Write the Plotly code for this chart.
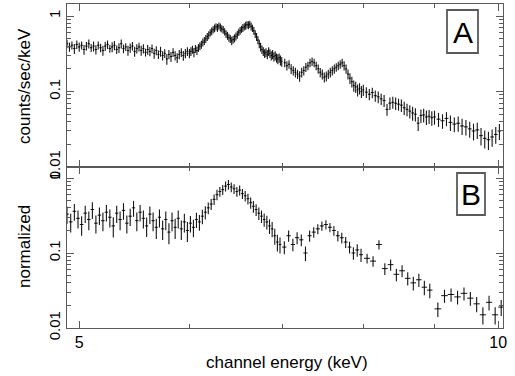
import numpy as np
import plotly.graph_objects as go

# ---------------- data ----------------
TOP_E = [
    4.90, 4.92, 4.94, 4.96, 4.98, 5.00, 5.02, 5.04, 5.06, 5.08,
    5.10, 5.12, 5.14, 5.16, 5.18, 5.20, 5.22, 5.24, 5.26, 5.28,
    5.30, 5.32, 5.34, 5.36, 5.38, 5.40, 5.42, 5.44, 5.46, 5.48,
    5.50, 5.52, 5.54, 5.56, 5.58, 5.60, 5.62, 5.64, 5.66, 5.68,
    5.70, 5.72, 5.74, 5.76, 5.78, 5.80, 5.82, 5.84, 5.86, 5.88,
    5.90, 5.92, 5.94, 5.96, 5.98, 6.00,
    6.015, 6.030, 6.045, 6.060, 6.075, 6.090, 6.105, 6.120, 6.135, 6.150,
    6.165, 6.180, 6.195, 6.210, 6.225, 6.240, 6.255, 6.270, 6.285, 6.300,
    6.315, 6.330, 6.345, 6.360, 6.375, 6.390, 6.405, 6.420, 6.435, 6.450,
    6.465, 6.480, 6.495, 6.510, 6.525, 6.540, 6.555, 6.570, 6.585, 6.600,
    6.615, 6.630, 6.645, 6.660, 6.675, 6.690, 6.705, 6.720, 6.735, 6.750,
    6.765, 6.780, 6.795, 6.810, 6.825, 6.840, 6.855, 6.870, 6.885, 6.900,
    6.915, 6.930, 6.945, 6.960, 6.975, 6.990,
    7.025, 7.050, 7.075, 7.100, 7.125, 7.150, 7.175, 7.200, 7.225, 7.250,
    7.275, 7.300, 7.325, 7.350, 7.375, 7.400, 7.425, 7.450, 7.475, 7.500,
    7.525, 7.550, 7.575, 7.600, 7.625, 7.650, 7.675, 7.700, 7.725, 7.750,
    7.775, 7.800, 7.825, 7.850, 7.875, 7.900, 7.925, 7.950, 7.975, 8.000,
    8.04, 8.08, 8.12, 8.16, 8.20, 8.24, 8.28, 8.32, 8.36, 8.40,
    8.44, 8.48, 8.52, 8.56, 8.60, 8.64, 8.68, 8.72, 8.76, 8.80,
    8.84, 8.88, 8.92, 8.96, 9.00,
    9.06, 9.12, 9.18, 9.24, 9.30, 9.36, 9.42, 9.48, 9.54, 9.60,
    9.66, 9.72, 9.78, 9.84, 9.90, 9.96, 10.02,
]
TOP_V = [
    0.43, 0.39, 0.41, 0.37, 0.42, 0.39, 0.41, 0.36, 0.40, 0.43,
    0.38, 0.40, 0.36, 0.41, 0.38, 0.35, 0.40, 0.42, 0.37, 0.39,
    0.41, 0.36, 0.38, 0.43, 0.37, 0.39, 0.35, 0.38, 0.40, 0.34,
    0.37, 0.39, 0.35, 0.37, 0.33, 0.36, 0.34, 0.37, 0.32, 0.35,
    0.31, 0.34, 0.30, 0.32, 0.27, 0.31, 0.29, 0.33, 0.30, 0.28,
    0.31, 0.33, 0.30, 0.32, 0.34, 0.32,
    0.34, 0.36, 0.33, 0.37, 0.35, 0.38, 0.40, 0.42, 0.45, 0.47,
    0.50, 0.53, 0.56, 0.60, 0.63, 0.66, 0.69, 0.72, 0.70, 0.74,
    0.71, 0.68, 0.66, 0.62, 0.58, 0.55, 0.52, 0.50, 0.47, 0.49,
    0.51, 0.54, 0.57, 0.61, 0.64, 0.67, 0.70, 0.72, 0.75, 0.77,
    0.76, 0.78, 0.73, 0.69, 0.64, 0.58, 0.53, 0.48, 0.43, 0.39,
    0.36, 0.34, 0.32, 0.33, 0.31, 0.34, 0.32, 0.30, 0.31, 0.29,
    0.30, 0.28, 0.27, 0.28, 0.26, 0.25,
    0.24, 0.22, 0.23, 0.20, 0.19, 0.18, 0.17, 0.16, 0.18, 0.19,
    0.21, 0.22, 0.24, 0.25, 0.24, 0.22, 0.20, 0.18, 0.17, 0.155,
    0.16, 0.17, 0.18, 0.19, 0.20, 0.21, 0.22, 0.23, 0.24, 0.22,
    0.20, 0.17, 0.15, 0.135, 0.12, 0.115, 0.105, 0.11, 0.10, 0.105,
    0.098, 0.092, 0.097, 0.088, 0.085, 0.080, 0.076, 0.058, 0.070, 0.072,
    0.070, 0.068, 0.066, 0.061, 0.058, 0.055, 0.052, 0.050, 0.038, 0.048,
    0.049, 0.046, 0.047, 0.045, 0.046,
    0.043, 0.041, 0.044, 0.039, 0.037, 0.038, 0.035, 0.034, 0.032, 0.030,
    0.031, 0.026, 0.024, 0.023, 0.025, 0.027, 0.030,
]
TOP_ERR_PCT = [
    13, 14, 12, 15, 13, 14, 12, 15, 13, 14,
    12, 15, 14, 12, 13, 15, 14, 13, 12, 15,
    14, 13, 15, 14, 13, 12, 15, 14, 13, 15,
    14, 13, 15, 14, 12, 15, 14, 13, 15, 14,
    13, 15, 14, 13, 16, 14, 15, 13, 14, 15,
    14, 13, 15, 14, 13, 14,
    13, 12, 14, 12, 13, 12, 12, 12, 12, 12,
    12, 12, 12, 11, 12, 11, 12, 11, 12, 11,
    12, 11, 12, 11, 12, 12, 12, 12, 13, 12,
    12, 12, 12, 11, 12, 11, 12, 11, 12, 11,
    12, 11, 12, 11, 12, 12, 12, 12, 13, 13,
    13, 13, 13, 13, 14, 13, 13, 14, 14, 14,
    14, 14, 15, 14, 15, 15,
    13, 14, 13, 15, 14, 15, 14, 16, 15, 14,
    14, 13, 13, 13, 13, 13, 14, 14, 15, 15,
    15, 14, 15, 14, 14, 13, 13, 13, 13, 14,
    14, 15, 16, 16, 17, 17, 18, 17, 18, 17,
    16, 17, 16, 17, 18, 17, 18, 18, 19, 18,
    19, 18, 19, 20, 19, 20, 21, 20, 21, 20,
    21, 22, 21, 22, 21,
    21, 22, 21, 23, 22, 23, 24, 23, 24, 25,
    24, 26, 27, 27, 26, 25, 24,
]

BOT_E = [
    4.90, 4.93, 4.96, 4.99, 5.02, 5.05, 5.08, 5.11, 5.14, 5.17,
    5.20, 5.23, 5.26, 5.29, 5.32, 5.35, 5.38, 5.41, 5.44, 5.47,
    5.50, 5.53, 5.56, 5.59, 5.62, 5.65, 5.68, 5.71, 5.74, 5.77,
    5.80, 5.83, 5.86, 5.89, 5.92, 5.95, 5.98,
    6.01, 6.04, 6.07, 6.10, 6.13, 6.16, 6.19, 6.22, 6.25, 6.28,
    6.31, 6.34, 6.37, 6.40, 6.43, 6.46, 6.49, 6.52, 6.55, 6.58,
    6.61, 6.64, 6.67, 6.70, 6.73, 6.76, 6.79, 6.82, 6.85, 6.88,
    6.91, 6.94, 6.97,
    7.02, 7.07, 7.12, 7.17, 7.22, 7.27, 7.32, 7.37, 7.42, 7.47,
    7.52, 7.57, 7.62, 7.67, 7.72, 7.77, 7.82, 7.87, 7.92, 7.97,
    8.05, 8.13, 8.21, 8.29, 8.37, 8.45, 8.53, 8.61, 8.69, 8.77, 8.85, 8.93,
    9.05, 9.15, 9.25, 9.35, 9.45, 9.55, 9.65, 9.75, 9.85, 9.95, 10.05,
]
BOT_V = [
    0.33, 0.26, 0.36, 0.29, 0.24, 0.34, 0.28, 0.38, 0.25, 0.32,
    0.27, 0.35, 0.30, 0.23, 0.34, 0.28, 0.37, 0.25, 0.31, 0.40,
    0.27, 0.35, 0.29, 0.23, 0.33, 0.27, 0.22, 0.30, 0.21, 0.28,
    0.19, 0.27, 0.22, 0.29, 0.21, 0.26, 0.20,
    0.25, 0.22, 0.28, 0.26, 0.31, 0.35, 0.40, 0.45, 0.52, 0.60,
    0.66, 0.70, 0.78, 0.82, 0.76, 0.72, 0.66, 0.69, 0.62, 0.58,
    0.53, 0.47, 0.42, 0.38, 0.34, 0.31, 0.28, 0.26, 0.23, 0.21,
    0.17, 0.14, 0.13,
    0.12, 0.17, 0.13, 0.16, 0.15, 0.10, 0.17, 0.19, 0.21, 0.23,
    0.24, 0.22, 0.20, 0.17, 0.16, 0.14, 0.12, 0.10, 0.11, 0.095,
    0.085, 0.078, 0.13, 0.062, 0.070, 0.052, 0.058, 0.046, 0.040, 0.044, 0.035, 0.032,
    0.018, 0.027, 0.028, 0.026, 0.029, 0.025, 0.021, 0.015, 0.022, 0.015, 0.019,
]
BOT_ERR_PCT = [
    26, 28, 25, 27, 29, 26, 28, 25, 27, 26,
    28, 25, 27, 30, 26, 28, 25, 27, 26, 24,
    28, 25, 27, 29, 26, 28, 30, 27, 29, 28,
    31, 28, 30, 27, 29, 28, 30,
    25, 26, 23, 24, 22, 20, 18, 17, 16, 16,
    15, 15, 15, 15, 15, 15, 15, 15, 15, 16,
    16, 17, 18, 18, 19, 19, 20, 21, 22, 23,
    24, 25, 24,
    20, 17, 19, 18, 18, 22, 17, 16, 15, 14,
    14, 14, 15, 16, 16, 17, 18, 19, 19, 20,
    15, 16, 14, 18, 17, 19, 18, 20, 21, 20, 22, 22,
    22, 20, 20, 21, 20, 21, 23, 26, 22, 26, 24,
]

X_TICKS = [5, 10]
X_TICK_TEXT = ["5", "10"]
X_MINOR = [6, 7, 8, 9]
Y_TICKS = [0.01, 0.1, 1]
Y_TICK_TEXT = ["0.01", "0.1", "1"]
Y_MINOR = [0.02, 0.03, 0.04, 0.05, 0.06, 0.07, 0.08, 0.09,
           0.2, 0.3, 0.4, 0.5, 0.6, 0.7, 0.8, 0.9]


def half_bins(e):
    e = np.asarray(e, dtype=float)
    d = np.diff(e)
    left = np.concatenate([[d[0]], d])
    right = np.concatenate([d, [d[-1]]])
    return np.minimum(left, right) / 2.0


def spectrum_trace(e, v, pct, xa, ya):
    v = np.asarray(v, dtype=float)
    err = v * np.asarray(pct, dtype=float) / 100.0
    return go.Scatter(
        x=e, y=v, mode="markers", xaxis=xa, yaxis=ya,
        marker=dict(size=1, color="black"),
        error_y=dict(type="data", array=err, color="#141414", thickness=1.1, width=0),
        error_x=dict(type="data", array=half_bins(e), color="#141414", thickness=1, width=0),
        showlegend=False, hoverinfo="skip",
    )


FONT = "Liberation Sans, Arial, Helvetica, sans-serif"
FRAME = "#5a5a5a"

fig = go.Figure()
fig.add_trace(spectrum_trace(TOP_E, TOP_V, TOP_ERR_PCT, "x2", "y2"))
fig.add_trace(spectrum_trace(BOT_E, BOT_V, BOT_ERR_PCT, "x", "y"))

split = (328 - 167) / 324.0
xr = [np.log10(4.90), np.log10(10.08)]

common_x = dict(
    type="log", range=xr, showgrid=False, zeroline=False,
    showline=True, linecolor=FRAME, linewidth=1.3, mirror="allticks",
    ticks="inside", ticklen=7, tickwidth=1, tickcolor=FRAME,
    tickmode="array", tickvals=X_TICKS, ticktext=X_TICK_TEXT,
    minor=dict(tickmode="array", tickvals=X_MINOR, ticks="inside",
               ticklen=4, tickwidth=1, tickcolor=FRAME, showgrid=False),
    tickfont=dict(family=FONT, size=16, color="black"),
)
common_y = dict(
    type="log", showgrid=False, zeroline=False,
    showline=True, linecolor=FRAME, linewidth=1.3, mirror="allticks",
    ticks="inside", ticklen=7, tickwidth=1, tickcolor=FRAME,
    tickmode="array", tickvals=Y_TICKS, ticktext=Y_TICK_TEXT,
    minor=dict(tickmode="array", tickvals=Y_MINOR, ticks="inside",
               ticklen=3.5, tickwidth=1, tickcolor=FRAME, showgrid=False),
    tickangle=-90,
    tickfont=dict(family=FONT, size=15, color="black"),
)

fig.update_layout(
    width=515, height=376,
    margin=dict(l=67, r=12, t=4, b=48),
    paper_bgcolor="white", plot_bgcolor="white",
    font=dict(family=FONT, color="black"),
    xaxis=dict(common_x, anchor="y", domain=[0, 1]),
    xaxis2=dict(common_x, anchor="y2", domain=[0, 1], matches="x", showticklabels=False),
    yaxis=dict(common_y, anchor="x", domain=[0, split], range=[-2, 0.147]),
    yaxis2=dict(common_y, anchor="x2", domain=[split, 1], range=[-2, 0.159]),
)

# label boxes A and B (paper coordinates of the plotting area)
W, H = 436.0, 324.0
def px(x):
    return (x - 67) / W
def py(y):
    return (328 - y) / H

for (x0, x1, y0, y1, txt) in [(447, 478, 10, 53, "A"), (457, 485, 173, 215, "B")]:
    fig.add_shape(type="rect", xref="paper", yref="paper",
                  x0=px(x0), x1=px(x1), y0=py(y1), y1=py(y0),
                  line=dict(color=FRAME, width=1.8), fillcolor="white", layer="above")
    fig.add_annotation(xref="paper", yref="paper", x=px((x0 + x1) / 2), y=py((y0 + y1) / 2 + 1),
                       text=txt, showarrow=False, xanchor="center", yanchor="middle",
                       font=dict(family=FONT, size=30, color="black"))

# axis titles
fig.add_annotation(xref="paper", yref="paper", x=px(24), y=py(86), text="counts/sec/keV",
                   textangle=-90, showarrow=False, xanchor="center", yanchor="middle",
                   font=dict(family=FONT, size=17, color="black"))
fig.add_annotation(xref="paper", yref="paper", x=px(24), y=py(247), text="normalized",
                   textangle=-90, showarrow=False, xanchor="center", yanchor="middle",
                   font=dict(family=FONT, size=17, color="black"))
fig.add_annotation(xref="paper", yref="paper", x=px(287), y=py(362), text="channel energy (keV)",
                   showarrow=False, xanchor="center", yanchor="middle",
                   font=dict(family=FONT, size=17, color="black"))

fig.write_html("out.html", config={"displayModeBar": False},
               post_script="document.body.style.margin='0';document.body.style.padding='0';")
